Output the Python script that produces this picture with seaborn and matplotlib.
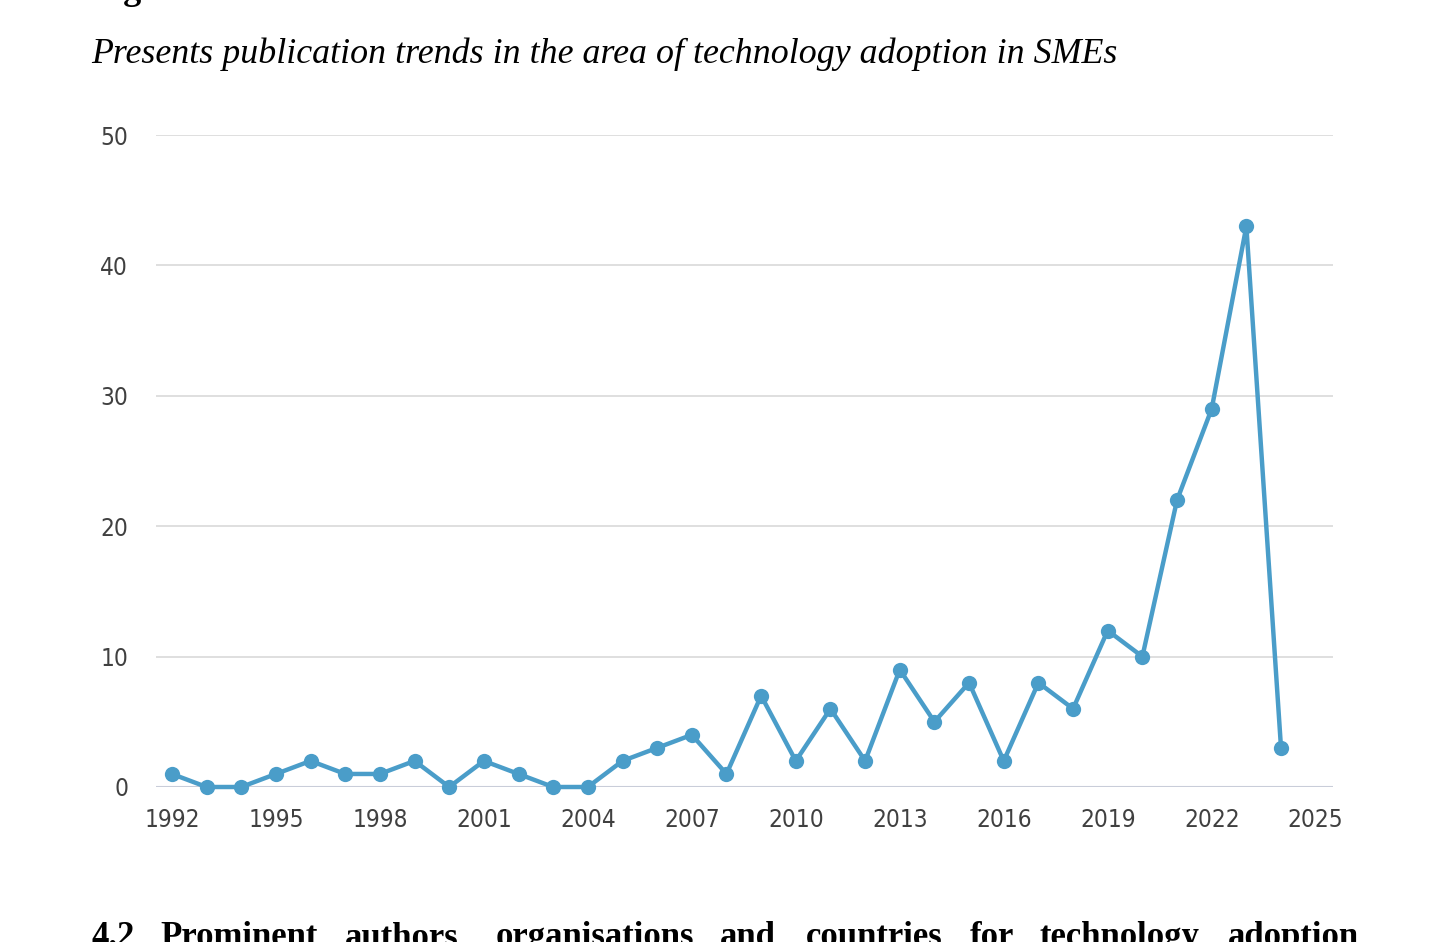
import matplotlib
matplotlib.use("Agg")
import matplotlib.pyplot as plt
import seaborn as sns
import pandas as pd

# Publication counts per year
years = list(range(1992, 2025))
publications = [1, 0, 0, 1, 2, 1, 1, 2, 0, 2, 1, 0, 0, 2, 3, 4, 1, 7, 2, 6, 2,
                9, 5, 8, 2, 8, 6, 12, 10, 22, 29, 43, 3]
x_ticks = [1992, 1995, 1998, 2001, 2004, 2007, 2010, 2013, 2016, 2019, 2022, 2025]
y_ticks = [0, 10, 20, 30, 40, 50]

title = "Presents publication trends in the area of technology adoption in SMEs"
heading_words = ["4.2", "Prominent", "authors,", "organisations", "and",
                 "countries", "for", "technology", "adoption"]
heading_x = [91, 160, 345, 496, 720, 806, 970, 1040, 1228]

df = pd.DataFrame({"year": years, "count": publications})

sns.set_theme(style="white")
serif_font = ["Liberation Serif", "DejaVu Serif"]

fig = plt.figure(figsize=(14.56, 9.42), dpi=100)
ax = fig.add_axes([156 / 1456, 1 - 787 / 942, (1333 - 156) / 1456, (787 - 135) / 942])

sns.lineplot(data=df, x="year", y="count", ax=ax, color="#4a9dc9", linewidth=3.2,
             marker="o", markersize=11, markeredgewidth=0, clip_on=False, zorder=3)

ax.set_xlim(1991.54, 2025.5)
ax.set_ylim(0, 50)
ax.set_xticks(x_ticks)
ax.set_yticks(y_ticks)
ax.set_xlabel("")
ax.set_ylabel("")
for s in ax.spines.values():
    s.set_visible(False)
ax.grid(axis="y", color="#dcdcdc", linewidth=1.3)
ax.grid(axis="x", visible=False)
ax.axhline(0, color="#c9cdd9", linewidth=1.5, zorder=1)
ax.tick_params(axis="both", length=0, labelcolor="#404040", labelsize=17.5)
ax.tick_params(axis="x", pad=15)
ax.tick_params(axis="y", pad=20)
for lab in ax.get_xticklabels() + ax.get_yticklabels():
    lab.set_family("DejaVu Sans")
    lab.set_fontstretch("condensed")

fig.text(91 / 1456, 1 + 1 / 942, "Figure 3", fontsize=26, fontweight="bold",
         family=serif_font, va="baseline", ha="left", color="black")
fig.text(91 / 1456, 1 - 63 / 942, title, fontsize=25.8, style="italic",
         family=serif_font, va="baseline", ha="left", color="black")
for word, xp in zip(heading_words, heading_x):
    fig.text(xp / 1456, 1 - 946 / 942, word, fontsize=25, fontweight="bold",
             family=serif_font, va="baseline", ha="left", color="black")

fig.savefig("out.png", dpi=100)
